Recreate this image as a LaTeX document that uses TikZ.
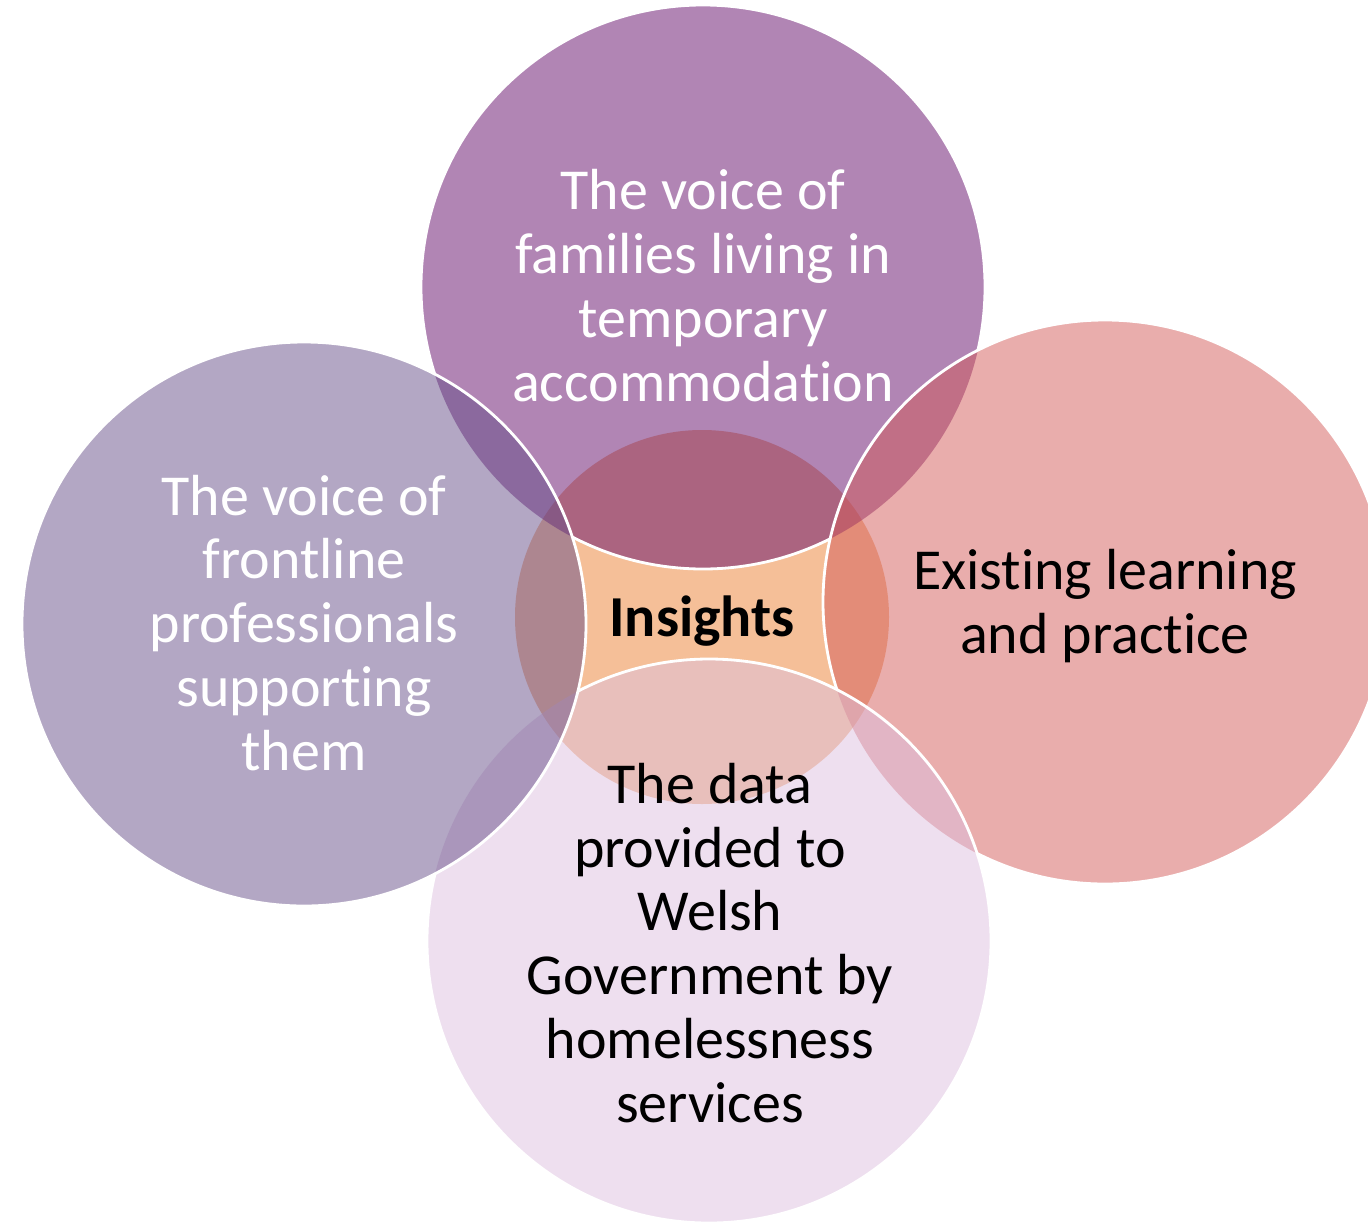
\documentclass[tikz,border=0pt]{standalone}
\usepackage{fontspec}
\setmainfont{Carlito}[Ligatures=NoCommon]
\usepackage{tikz}

\definecolor{familyvoice}{RGB}{99,11,105}
\definecolor{staffvoice}{RGB}{103,79,137}
\definecolor{learning}{RGB}{211,91,89}
\definecolor{govdata}{RGB}{221,191,223}
\definecolor{insight}{RGB}{245,191,152}

\tikzset{
  venn/.style={fill=#1, fill opacity=0.5},
  rim/.style={draw=white, line width=1.6pt},
  words/.style={align=center, text=#1, font=\fontsize{33}{36.4}\selectfont},
}

\begin{document}
\begin{tikzpicture}[x=0.02cm, y=-0.02cm]

\newcommand{\outside}[1]{\clip (-100,-100) rectangle (1500,1350) (#1) circle [radius=282];}

\useasboundingbox (0,0) rectangle (1368,1224);

% centre circle
\fill[insight] (702,617) circle [radius=187];

% the four outer circles, half see-through
\fill[venn=familyvoice] (703,287) circle [radius=282];
\fill[venn=learning] (1105,602) circle [radius=282];
\fill[venn=govdata] (709,941) circle [radius=282];
\fill[venn=staffvoice] (304,624) circle [radius=282];

% white rims, each hidden under the circles laid on later
\begin{scope}[even odd rule]
    \outside{304,624}
    \draw[rim] (709,941) circle [radius=282];
    \outside{709,941}
    \draw[rim] (1105,602) circle [radius=282];
    \outside{1105,602}
    \draw[rim] (703,287) circle [radius=282];
\end{scope}
\draw[rim] (304,624) circle [radius=282];

% texts
\node[words=white] (families) at (703,286) {The voice of\\families living in\\temporary\\accommodation};
\node[words=white] (frontline) at (304,623) {The voice of\\frontline\\professionals\\supporting\\them};
\node[words=black] (existing) at (1105,606) {Existing learning\\and practice};
\node[words=black] (data) at (710,943) {The data\\provided to\\Welsh\\Government by\\homelessness\\services};
\node[words=black, font=\fontsize{33}{36.4}\selectfont\bfseries] (insights) at (702,621) {Insights};

\end{tikzpicture}
\end{document}
